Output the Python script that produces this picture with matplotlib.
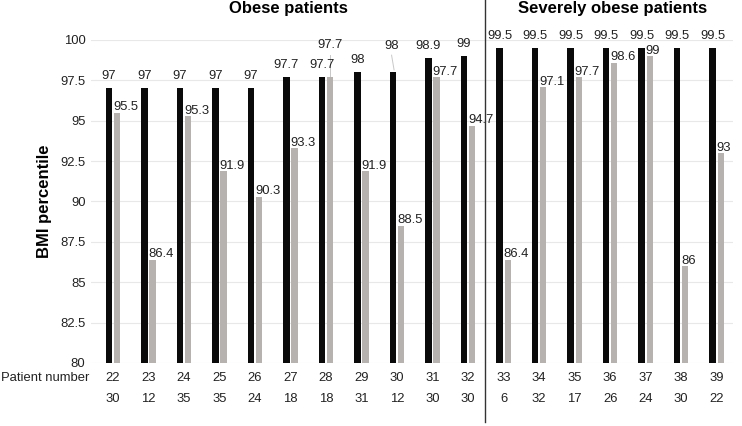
import matplotlib
matplotlib.use("Agg")
import matplotlib.pyplot as plt
from matplotlib.lines import Line2D
import numpy as np

plt.rcParams['font.family'] = ['Liberation Sans', 'DejaVu Sans']

patients = [22, 23, 24, 25, 26, 27, 28, 29, 30, 31, 32, 33, 34, 35, 36, 37, 38, 39]
second_row = [30, 12, 35, 35, 24, 18, 18, 31, 12, 30, 30, 6, 32, 17, 26, 24, 30, 22]
black_vals = [97, 97, 97, 97, 97, 97.7, 97.7, 98, 98, 98.9, 99,
              99.5, 99.5, 99.5, 99.5, 99.5, 99.5, 99.5]
gray_vals = [95.5, 86.4, 95.3, 91.9, 90.3, 93.3, 97.7, 91.9, 88.5, 97.7, 94.7,
             86.4, 97.1, 97.7, 98.6, 99, 86, 93]
yticks = [80, 82.5, 85, 87.5, 90, 92.5, 95, 97.5, 100]
ytick_labels = ['80', '82.5', '85', '87.5', '90', '92.5', '95', '97.5', '100']

W, H = 742, 426
fig = plt.figure(figsize=(W / 100, H / 100), dpi=100)
ax_left, ax_right, ax_top, ax_bot = 91, 733, 40, 363
ax = fig.add_axes([ax_left / W, 1 - ax_bot / H, (ax_right - ax_left) / W, (ax_bot - ax_top) / H])

x = np.arange(len(patients))
bw = 0.18
off = 0.115
ax.bar(x - off, [v - 80 for v in black_vals], bw, bottom=80, color='#0a0a0a', zorder=3)
ax.bar(x + off, [v - 80 for v in gray_vals], bw, bottom=80, color='#b5b2b0', zorder=3)

fs = 9.4
ax.set_ylim(80, 100)
ax.set_xlim(-0.62, 17.46)
ax.set_yticks(yticks)
ax.set_yticklabels(ytick_labels, fontsize=fs, color='#222222')
ax.set_xticks([])
ax.tick_params(axis='y', length=0, pad=4)
for s in ax.spines.values():
    s.set_visible(False)
ax.yaxis.grid(True, color='#e8e8e8', linewidth=0.8, zorder=0)
ax.set_ylabel('BMI percentile', fontsize=12, fontweight='bold', labelpad=6)

for i in range(len(patients)):
    bv = black_vals[i]
    gv = gray_vals[i]
    # black labels
    if patients[i] == 30:
        ax.text(x[i] - off - 0.04, 99.62, f'{bv:g}', ha='center', va='center', fontsize=fs, color='#222222')
        ax.plot([x[i] - off - 0.04, x[i] - off + 0.03], [99.06, bv + 0.15], color='#c8c8c8', lw=0.7)
    else:
        ax.annotate(f'{bv:g}', (x[i] - off, bv), xytext=(0, 4.5), textcoords='offset points',
                    ha='center', va='bottom', fontsize=fs, color='#222222', annotation_clip=False)
    # gray labels
    if patients[i] == 28:
        ax.text(x[i] + off, 99.69, f'{gv:g}', ha='center', va='center', fontsize=fs, color='#222222')
        ax.plot([x[i] + off, x[i] + off], [99.05, gv], color='#c8c8c8', lw=0.7)
    else:
        ax.annotate(f'{gv:g}', (x[i] + off - bw / 2, gv), xytext=(-0.5, -0.5), textcoords='offset points',
                    ha='left', va='bottom', fontsize=fs, color='#222222', annotation_clip=False)

# row labels below the axes
trans = ax.get_xaxis_transform()
y1 = -(378 - ax_bot) / (ax_bot - ax_top)
y2 = -(399 - ax_bot) / (ax_bot - ax_top)
for i in range(len(patients)):
    ax.text(x[i], y1, str(patients[i]), transform=trans, ha='center', va='center', fontsize=fs, color='#222222')
    ax.text(x[i], y2, str(second_row[i]), transform=trans, ha='center', va='center', fontsize=fs, color='#222222')
fig.text(89 / W, 1 - 378 / H, 'Patient number', ha='right', va='center', fontsize=fs, color='#222222')

# titles
fig.text(288 / W, 1 - 9 / H, 'Obese patients', ha='center', va='center', fontsize=12, fontweight='bold')
fig.text(613 / W, 1 - 9 / H, 'Severely obese patients', ha='center', va='center', fontsize=12, fontweight='bold')

# separator line
sep_x = 485 / W
fig.add_artist(Line2D([sep_x, sep_x], [1.0, 1 - 422 / H], color='#333333', lw=1.0, transform=fig.transFigure))

fig.savefig('out.png', dpi=100)
